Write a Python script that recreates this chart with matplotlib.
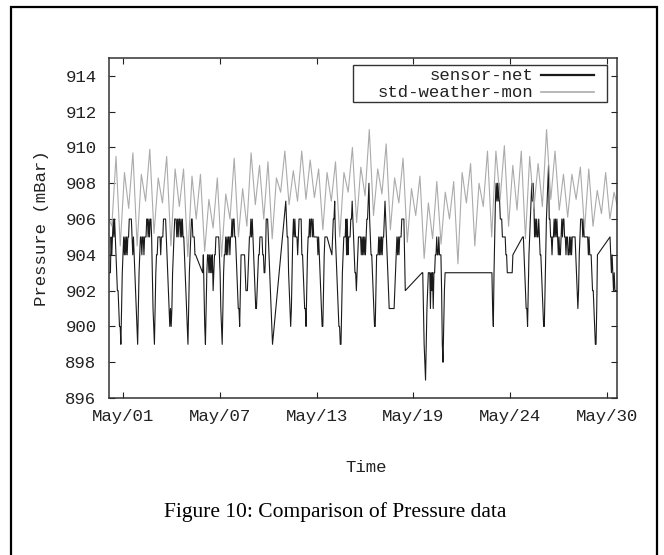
import numpy as np
import matplotlib.pyplot as plt
from matplotlib.patches import Rectangle
from matplotlib.lines import Line2D

plt.rcParams['font.family'] = ['Liberation Mono', 'DejaVu Sans Mono']

# sensor-net: hourly readings (mBar), one row per day starting May 1, None = no data
N = None
sensor_net = [
    [903, 903, 903, 905, 904, 905, 906, 905, 906, 905, 904, 903, 902, 902, 901, 900, 900, 899, 901, 903, 904, 905, 904, 905],
    [904, 905, 904, 905, 905, 906, 906, 906, 906, 905, 904, 905, 904, 903, 902, 901, 900, 899, 901, 903, 904, 905, 905, 904],
    [905, 905, 904, 905, 905, 905, 906, 906, 905, 906, 905, 906, 906, 905, 903, 901, 900, 899, 901, 903, 904, 904, 905, 905],
    [905, 905, 904, 905, 905, 905, 906, 906, 906, 906, 905, 904, 903, 902, 901, 900, 901, 900, 901, 903, 904, 905, 906, 906],
    [906, 905, 906, 905, 906, 906, 905, 906, 905, 906, 905, 905, 904, 903, 902, 901, 900, 899, 901, 903, 904, 905, 906, 906],
    [905, 905, 905, 904, 904, N, N, N, N, N, N, N, N, N, 903, 904, 902, 900, 899, 901, 903, 904, 904, 903],
    [904, 903, 904, 903, 904, 902, 903, 904, 904, 905, 905, 905, 905, 905, 904, 903, 901, 900, 899, 901, 903, 904, 904, 905],
    [904, 905, 904, 905, 905, 904, 905, 905, 906, 905, 906, 906, 905, 905, 904, 903, 902, 901, 901, 900, 902, 904, 904, 904],
    [904, 904, 904, 903, 902, 902, 902, 903, 904, 905, 905, 906, 905, 906, 905, 904, 903, 902, 901, 901, 902, 903, 904, 904],
    [905, 905, 905, 905, 904, 904, 903, 903, 904, 906, 906, 906, 905, 904, 903, 902, 901, 900, 899, N, N, N, N, N],
    [N, N, N, N, N, N, N, N, N, N, N, N, N, 907, 906, 905, 905, 903, 902, 901, 900, 901, 903, 905],
    [906, 905, 906, 905, 905, 905, 904, 905, 906, 906, 906, 906, 904, 904, 903, 902, 901, 901, 900, 902, 904, 905, 905, 906],
    [905, 906, 906, 905, 906, 905, 905, 905, 905, 905, 905, 904, 905, 904, 903, 902, 901, 900, 900, 902, 904, 905, 905, 905],
    [905, N, N, N, N, N, N, 904, 905, 906, 906, 907, 905, 904, 903, 902, 901, 900, 900, 899, 899, 901, 903, 904],
    [905, 905, 905, 906, 904, 906, 904, 905, 905, 905, 906, 906, 907, 906, 905, 904, 903, 903, 902, 903, 904, 905, 905, 905],
    [905, 904, 905, 904, 905, 904, 905, 904, 905, 906, 906, 907, 908, 906, 905, 904, 904, 903, 902, 901, 900, 900, 902, 904],
    [904, 904, 905, 904, 905, 904, 905, 904, 905, 905, 906, 907, 906, 905, 904, 903, 902, 901, 901, 901, 901, 901, 901, 901],
    [901, 902, 903, 904, 905, 904, 905, 904, 905, 905, 905, 906, 906, 906, 906, 904, 902, N, N, N, N, N, N, N],
    [N, N, N, N, N, N, N, N, N, N, N, N, N, N, N, N, 903, 903, 901, 899, 898, 897, 899, 901],
    [902, 903, 903, 903, 901, 903, 902, 903, 901, 903, 903, 904, 904, 905, 904, 904, 905, 904, 904, 904, 902, 899, 898, 900],
    [902, 903, N, N, N, N, N, N, N, N, N, N, N, N, N, N, N, N, N, N, N, N, N, N],
    [N, N, N, N, N, N, N, N, N, N, N, N, N, N, N, N, N, N, N, N, N, N, N, N],
    [N, N, N, N, N, N, N, N, N, N, N, N, N, N, N, N, N, N, N, 903, 903, 901, 900, 903],
    [905, 907, 908, 907, 908, 907, 908, 907, 906, 906, 906, 905, 905, 905, 905, 905, 904, 904, 903, 903, 903, 903, 903, 903],
    [903, 903, 904, N, N, N, N, N, N, N, N, N, N, N, N, N, 905, 905, 904, 903, 902, 901, 901, 900],
    [902, 904, 905, 906, 907, 908, 907, 908, 907, 905, 906, 905, 906, 905, 905, 906, 905, 904, 904, 903, 902, 901, 900, 900],
    [902, 904, 906, 907, 908, 909, 906, 906, 905, 905, 904, 905, 905, 906, 905, 906, 905, 906, 905, 904, 905, 904, 904, 905],
    [906, 905, 906, 906, 905, 905, 904, 905, 905, 904, 904, 905, 904, 905, 904, 905, 905, 905, 905, 905, 904, 903, 902, 901],
    [902, 904, 905, 906, 906, 906, 905, 906, 905, 905, 905, 905, 905, 905, 904, 905, 904, 904, 904, 903, 902, 902, 901, 900],
    [899, 899, 901, 904, N, N, N, N, N, N, N, N, N, N, N, N, N, N, N, N, N, 905, 904, 903],
    [904, 903, 902, 903, 902, 902, 902, 902],
]

# std-weather-mon: successive troughs / peaks of the semi-diurnal swing (mBar)
weather_first = 906.0
weather_extrema = [
    905.6, 909.5, 904.5, 908.6, 906.6, 909.7, 904.5, 908.5, 907.0, 909.9,
    905.2, 908.3, 906.9, 909.5, 904.5, 908.8, 906.7, 908.8, 903.9, 908.4,
    906.0, 908.5, 904.2, 907.1, 905.5, 908.3, 903.9, 907.4, 906.0, 909.4,
    905.0, 907.7, 905.6, 909.7, 906.8, 909.0, 906.0, 909.2, 904.9, 908.3,
    907.5, 909.8, 906.8, 908.7, 907.0, 909.8, 907.1, 909.3, 907.2, 908.8,
    905.4, 908.6, 907.0, 909.2, 905.0, 908.6, 907.5, 910.0, 905.8, 908.9,
    907.3, 911.0, 906.2, 908.8, 907.4, 910.2, 905.4, 908.3, 906.9, 909.4,
    904.7, 907.7, 906.2, 908.4, 903.8, 906.9, 904.9, 908.1, 904.6, 907.5,
    906.0, 908.1, 903.5, 908.6, 906.9, 909.1, 904.5, 908.0, 906.7, 909.8,
    905.0, 909.8, 907.1, 910.1, 905.6, 909.0, 906.5, 909.8, 904.9, 909.5,
    906.6, 909.1, 906.7, 911.0, 907.1, 909.8, 906.5, 908.5, 906.1, 908.5,
    907.1, 908.9, 905.4, 908.8, 905.6, 907.6, 906.3, 908.6, 906.0, 907.5,
]
weather_last = 906.8

x_tick_labels = ['May/01', 'May/07', 'May/13', 'May/19', 'May/24', 'May/30']
y_ticks = list(range(896, 915, 2))

# time axis in days since May/01 00:00
t_end = 30 + 7 / 24
sensor_t, sensor_p = [], []
for d, row in enumerate(sensor_net):
    for h, v in enumerate(row):
        if v is not None:
            sensor_t.append(d + h / 24)
            sensor_p.append(v)

ext_t = 0.167 + 0.2517 * np.arange(len(weather_extrema))
weather_t = np.r_[0.0, ext_t, t_end]
weather_p = np.r_[weather_first, weather_extrema, weather_last]

fig = plt.figure(figsize=(6.64, 5.55), dpi=100)
W, H = 664, 555
ax = fig.add_axes([109 / W, 1 - 398 / H, 508 / W, 340 / H])

ax.plot(sensor_t, sensor_p, color='#1a1a1a', lw=0.8)
ax.plot(weather_t, weather_p, color='#ababab', lw=0.8)

ax.set_xlim(0, t_end)
ax.set_ylim(896, 915)
ax.set_yticks(y_ticks)
ax.set_xticks(0.835 + 5.773 * np.arange(len(x_tick_labels)))
ax.set_xticklabels(x_tick_labels)
ax.tick_params(direction='in', length=4, width=0.8, top=True, right=True,
               labelsize=12.5, colors='#222222')
ax.tick_params(axis='y', pad=9)
ax.tick_params(axis='x', pad=8)
for s in ax.spines.values():
    s.set_linewidth(1.1)
    s.set_color('#333333')

# gnuplot style key: right-justified text, sample line on the right
ax.add_patch(Rectangle((0.480, 0.871), 0.500, 0.108, transform=ax.transAxes,
                       fill=False, lw=1.0, ec='#333333', zorder=5))
ax.add_patch(Rectangle((0.480, 0.871), 0.500, 0.108, transform=ax.transAxes,
                       fc='white', ec='none', zorder=4))
key = [('sensor-net', '#1a1a1a', 1.6), ('std-weather-mon', '#ababab', 1.2)]
for i, (name, col, lw) in enumerate(key):
    y = 0.949 - i * 0.05
    ax.text(0.835, y, name, transform=ax.transAxes, ha='right', va='center',
            fontsize=12.5, color='#222222', zorder=6)
    ax.add_line(Line2D([0.850, 0.955], [y, y], transform=ax.transAxes,
                       color=col, lw=lw, zorder=6))

fig.text(42 / W, 1 - 228 / H, 'Pressure (mBar)', rotation=90, ha='center',
         va='center', fontsize=12.5, color='#222222')
fig.text(366 / W, 1 - 468 / H, 'Time', ha='center', va='center',
         fontsize=12.5, color='#222222')
fig.text(335 / W, 1 - 512 / H, 'Figure 10: Comparison of Pressure data',
         ha='center', va='center', fontsize=15.5, family='Liberation Serif')

# page frame around the figure
fig.add_artist(Rectangle((11 / W, -0.05), 646 / W, 1.05 - 7 / H,
                         transform=fig.transFigure, fill=False, lw=1.6,
                         ec='black'))

fig.savefig('out.png', dpi=100)
